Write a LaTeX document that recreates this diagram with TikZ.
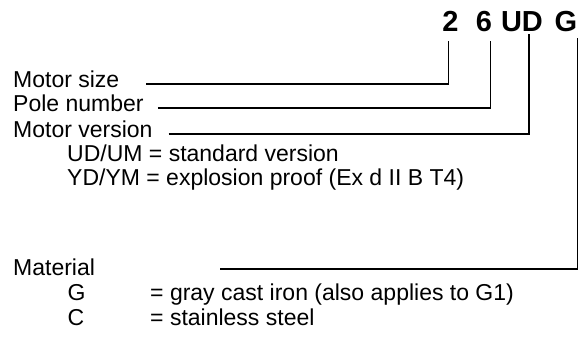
\documentclass[tikz,border=0pt]{standalone}
\usepackage{fontspec}
\setmainfont{Liberation Sans}
\usepackage{tikz}
\tikzset{
    code-part/.style = {inner sep=0pt, anchor=base, font=\fontsize{29}{32}\selectfont\bfseries},
    label-text/.style = {inner sep=0pt, anchor=base west, text height=1.5ex, text depth=.25ex, font=\fontsize{23}{26}\selectfont},
    leader-line/.style = {draw=black, line width=1.8pt},
}

\begin{document}
\begin{tikzpicture}[x=1pt, y=-1pt]
\useasboundingbox (0,0) rectangle (587,338);
% type code
\node[code-part] (two) at (450.5,31) {2};
\node[code-part] (six) at (484,31) {6};
\node[code-part] (ud) at (522,31) {UD};
\node[code-part] (g) at (566,31) {G};
% explanations
\node[label-text] (size) at (13,87) {Motor size};
\node[label-text] (poles) at (13,111.5) {Pole number};
\node[label-text] (version) at (13,137) {Motor version};
\node[label-text] (std) at (67,161) {UD/UM = standard version};
\node[label-text] (exproof) at (67,185) {YD/YM = explosion proof (Ex d II B T4)};
\node[label-text] (material) at (13,275.5) {Material};
\node[label-text] (gkey) at (67.5,300) {G};
\node[label-text] (gtext) at (150,300) {= gray cast iron (also applies to G1)};
\node[label-text] (ckey) at (67.5,325) {C};
\node[label-text] (ctext) at (150,325) {= stainless steel};
% leader lines
\coordinate (two-end) at ([xshift=-2pt, yshift=-10pt]two.south);
\coordinate (six-end) at ([xshift=6.5pt, yshift=-10pt]six.south);
\coordinate (ud-end) at ([xshift=7pt, yshift=-3pt]ud.south);
\coordinate (g-end) at ([xshift=11.5pt, yshift=-7pt]g.south);
\draw[leader-line] ([xshift=27pt]size.east) -| (two-end);
\draw[leader-line] ([xshift=14pt]poles.east) -| (six-end);
\draw[leader-line] ([xshift=16pt]version.east) -| (ud-end);
\draw[leader-line] ([xshift=125pt, yshift=3pt]material.east) -| (g-end);
\end{tikzpicture}
\end{document}
